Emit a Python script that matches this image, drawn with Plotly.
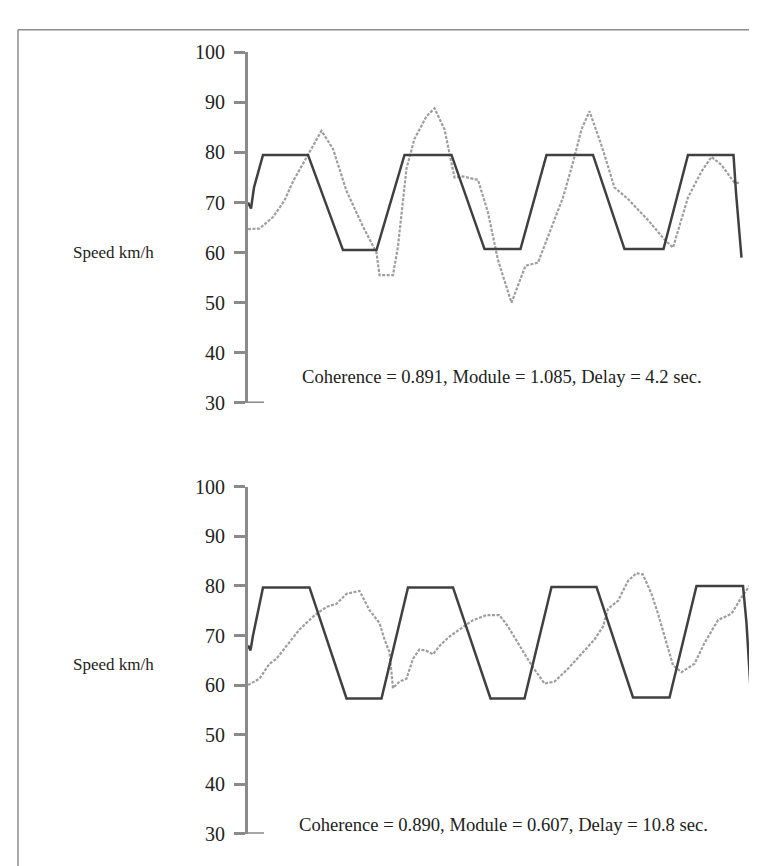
import plotly.graph_objects as go

# ---------------- data ----------------
# Top panel: reference (solid) signal
top_ref_t = [0, 0.6, 1.2, 3, 12, 19, 25.7, 31.3, 40.7, 47.3, 54.5, 59.7, 69, 75.3, 83.1, 88, 97.1, 97.6, 98.7]
top_ref_v = [70, 68.8, 73, 79.5, 79.5, 60.5, 60.5, 79.5, 79.5, 60.7, 60.7, 79.5, 79.5, 60.7, 60.7, 79.5, 79.5, 72, 59]
# Top panel: measured (dotted) signal
top_meas_t = [0, 2.3, 5, 7.3, 9, 12, 14.7, 17, 19.7, 23, 25.7, 26.3, 29, 30, 31.7, 33.3, 35.7, 37.3, 39.3,
              41.3, 43, 46, 48, 50, 52.7, 55.5, 58, 60, 63, 65, 66.7, 68.3, 70.7, 73.3, 76, 80, 83.3, 85,
              88, 90.7, 92.7, 94.7, 97.3, 98.3]
top_meas_v = [64.7, 64.8, 67.1, 70.4, 74.2, 79.5, 84.3, 80.7, 72.3, 65.2, 60, 55.5, 55.5, 61.3, 76.8, 82.7, 87.2, 88.8, 84.6,
              75, 75.2, 74.5, 68, 58.5, 50, 57.4, 58, 63.2, 71, 78, 84.6, 88.2, 81.4, 73, 70.7, 66.5, 62.6, 61,
              71, 76.2, 79.1, 77.5, 73.9, 73.9]

# Bottom panel: reference (solid) signal
bot_ref_t = [0, 0.5, 1, 2, 3, 12.3, 19.7, 26.7, 32, 41, 48.5, 55.3, 60.7, 69.7, 77, 84.3, 89.7, 99, 99.7, 100.7]
bot_ref_v = [68, 67, 70, 75, 79.7, 79.7, 57.3, 57.3, 79.7, 79.7, 57.3, 57.3, 79.8, 79.8, 57.5, 57.5, 80, 80, 72.5, 56]
# Bottom panel: measured (dotted) signal
bot_meas_t = [0, 2.3, 4.3, 5.7, 7.7, 10.3, 13, 15.7, 17.7, 19.7, 22.3, 24.3, 26.3, 27.3, 28.3, 29, 30.3, 31.7,
              33, 34.3, 35.7, 37, 38.3, 40.3, 42.3, 45, 47.7, 50.3, 52, 54, 56.7, 59.3, 61.3, 64, 66.7, 69.3,
              71, 72, 74, 76, 77.7, 79, 80.7, 82, 83.7, 85, 86.7, 89.3, 91.3, 94, 96.7, 98.7, 100.3]
bot_meas_v = [60, 61.3, 64.3, 65.3, 67.9, 71.2, 73.8, 75.8, 76.4, 78.4, 79, 75.1, 72.5, 69.2, 66.6, 59.4, 60.7, 61.3,
              65.3, 67.2, 66.9, 66.2, 67.9, 69.8, 71.2, 73.1, 74.1, 74.1, 71.8, 68.5, 64, 60.3, 60.7, 63.3, 66.2, 69.2,
              71.8, 75.4, 77, 81, 82.6, 82.3, 78.4, 74.4, 68.5, 64, 62.6, 64.3, 68.5, 73.1, 74.4, 77.7, 80]

y_ticks = [30, 40, 50, 60, 70, 80, 90, 100]
y_label = "Speed km/h"
top_note = "Coherence = 0.891, Module = 1.085, Delay = 4.2 sec."
bot_note = "Coherence = 0.890, Module = 0.607, Delay = 10.8 sec."

# ---------------- figure ----------------
W, H = 757, 866
FONT = "Liberation Serif"
SOLID = "#404040"
DOT = "#9e9e9e"
AXC = "#8a8a8a"
DOTDASH = "3px,1.5px"

fig = go.Figure()
fig.add_trace(go.Scatter(x=top_meas_t, y=top_meas_v, mode="lines", xaxis="x", yaxis="y",
                         line=dict(color=DOT, width=2.2, dash=DOTDASH), showlegend=False))
fig.add_trace(go.Scatter(x=top_ref_t, y=top_ref_v, mode="lines", xaxis="x", yaxis="y",
                         line=dict(color=SOLID, width=2.5), showlegend=False))
fig.add_trace(go.Scatter(x=bot_meas_t, y=bot_meas_v, mode="lines", xaxis="x2", yaxis="y2",
                         line=dict(color=DOT, width=2.2, dash=DOTDASH), showlegend=False))
fig.add_trace(go.Scatter(x=bot_ref_t, y=bot_ref_v, mode="lines", xaxis="x2", yaxis="y2",
                         line=dict(color=SOLID, width=2.5), showlegend=False))

x_dom = [240 / W, 745 / W]
top_dom = [1 - 394 / H, 1 - 34 / H]
bot_dom = [1 - 836 / H, 1 - 480 / H]

yax = dict(range=[30, 100], tickvals=y_ticks, ticks="outside", ticklen=11, tickwidth=3,
           tickcolor=AXC, showline=True, linecolor=AXC, linewidth=3, showgrid=False,
           zeroline=False, tickfont=dict(family=FONT, size=20, color="#222"),
           ticklabelstandoff=5)
xax = dict(range=[0, 101], visible=False, showgrid=False, zeroline=False)

fig.update_layout(
    width=W, height=H, margin=dict(l=0, r=0, t=0, b=0),
    paper_bgcolor="white", plot_bgcolor="rgba(0,0,0,0)",
    xaxis=dict(domain=x_dom, anchor="y", **xax),
    yaxis=dict(domain=top_dom, anchor="x", **yax),
    xaxis2=dict(domain=x_dom, anchor="y2", **xax),
    yaxis2=dict(domain=bot_dom, anchor="x2", **yax),
    font=dict(family=FONT, color="#222"),
)

shapes = [
    # frame (top and left edges)
    dict(type="line", xref="paper", yref="paper", x0=10 / W, x1=1.01, y0=1 - 11 / H, y1=1 - 11 / H,
         line=dict(color="#8c8c8c", width=1.5)),
    dict(type="line", xref="paper", yref="paper", x0=10 / W, x1=10 / W, y0=-0.01, y1=1 - 11 / H,
         line=dict(color="#8c8c8c", width=1.5)),
    # extended 30 tick (crossing the axis)
    dict(type="line", xref="paper", yref="y", x0=240 / W, x1=256 / W, y0=30, y1=30,
         line=dict(color=AXC, width=3)),
    dict(type="line", xref="paper", yref="y2", x0=240 / W, x1=256 / W, y0=30, y1=30,
         line=dict(color=AXC, width=3)),
]
fig.update_layout(shapes=shapes)

def note(text, x, y, size):
    return dict(text=text, xref="paper", yref="paper", x=x / W, y=1 - y / H, showarrow=False,
                xanchor="center", yanchor="middle", font=dict(family=FONT, size=size, color="#222"))

annots = [
    note(y_label, 105, 240, 17),
    note(y_label, 105, 662, 17),
    note(top_note, 493.5, 367, 18.6),
    note(bot_note, 495.5, 826, 18.6),
]
fig.update_layout(annotations=annots)

fig.write_html("out.html")
